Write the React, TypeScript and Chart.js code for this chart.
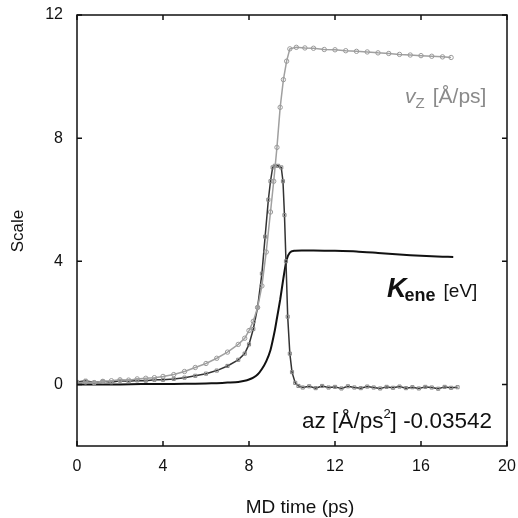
import React, { useEffect, useRef } from "react";
import { Chart, registerables } from "chart.js";
Chart.register(...registerables);

// ---- data ----
const vzTime = [0, 0.4, 0.8, 1.2, 1.6, 2.0, 2.4, 2.8, 3.2, 3.6, 4.0, 4.5, 5.0, 5.5, 6.0, 6.5, 7.0, 7.5, 7.8, 8.0, 8.2, 8.4, 8.6, 8.8, 9.0, 9.15, 9.3, 9.45, 9.6, 9.75, 9.9, 10.2, 10.6, 11.0, 11.5, 12.0, 12.5, 13.0, 13.5, 14.0, 14.5, 15.0, 15.5, 16.0, 16.5, 17.0, 17.4];
const vzValues = [0.05, 0.08, 0.06, 0.1, 0.12, 0.15, 0.14, 0.18, 0.2, 0.22, 0.26, 0.32, 0.42, 0.55, 0.68, 0.85, 1.05, 1.3, 1.5, 1.75, 2.05, 2.5, 3.2, 4.3, 5.6, 6.6, 7.7, 9.0, 9.9, 10.5, 10.9, 10.95, 10.93, 10.92, 10.88, 10.87, 10.84, 10.82, 10.8, 10.77, 10.75, 10.72, 10.7, 10.68, 10.66, 10.64, 10.62];

const azTime = [0, 0.4, 0.8, 1.2, 1.6, 2.0, 2.4, 2.8, 3.2, 3.6, 4.0, 4.5, 5.0, 5.5, 6.0, 6.5, 7.0, 7.5, 7.8, 8.0, 8.2, 8.4, 8.6, 8.75, 8.9, 9.0, 9.1, 9.2, 9.35, 9.5, 9.58, 9.65, 9.72, 9.8, 9.9, 10.0, 10.15, 10.3, 10.5, 10.8, 11.1, 11.4, 11.7, 12.0, 12.3, 12.6, 12.9, 13.2, 13.5, 13.8, 14.1, 14.4, 14.7, 15.0, 15.3, 15.6, 15.9, 16.2, 16.5, 16.8, 17.1, 17.4, 17.7];
const azValues = [0.08, 0.12, 0.06, 0.1, 0.07, 0.12, 0.1, 0.13, 0.12, 0.15, 0.15, 0.18, 0.22, 0.28, 0.35, 0.45, 0.6, 0.8, 1.0, 1.3, 1.8, 2.5, 3.6, 4.8, 6.0, 6.6, 7.05, 7.1, 7.1, 7.05, 6.6, 5.5, 4.0, 2.2, 1.0, 0.4, 0.05, -0.05, -0.1, -0.06, -0.12, -0.05, -0.1, -0.08, -0.13, -0.06, -0.1, -0.12, -0.07, -0.1, -0.13, -0.08, -0.11, -0.07, -0.12, -0.09, -0.13, -0.08, -0.1, -0.14, -0.08, -0.11, -0.09];

const keneTime = [0, 1, 2, 3, 4, 5, 6, 6.5, 7.0, 7.5, 7.8, 8.0, 8.2, 8.4, 8.6, 8.8, 9.0, 9.2, 9.3, 9.45, 9.6, 9.75, 9.9, 10.1, 10.5, 11, 12, 13, 14, 15, 16, 17, 17.5];
const keneValues = [0, 0, 0, 0.01, 0.01, 0.02, 0.03, 0.04, 0.06, 0.08, 0.12, 0.16, 0.22, 0.32, 0.5, 0.75, 1.12, 1.75, 2.15, 2.75, 3.45, 4.05, 4.28, 4.34, 4.35, 4.35, 4.34, 4.32, 4.27, 4.22, 4.18, 4.15, 4.14];

const xTicks = [0, 4, 8, 12, 16, 20];
const yTicks = [0, 4, 8, 12];

const FONT = "'Liberation Sans', Arial, sans-serif";

const pts = (t: number[], v: number[]) => t.map((x, i) => ({ x, y: v[i] }));

const framePlugin = {
  id: "frame",
  afterDraw(chart: any) {
    const { ctx, chartArea: a, scales } = chart;
    const x = scales.x, y = scales.y;
    ctx.save();
    ctx.strokeStyle = "#111";
    ctx.lineWidth = 1.5;
    ctx.strokeRect(a.left, a.top, a.right - a.left, a.bottom - a.top);
    const L = 5;
    ctx.beginPath();
    xTicks.forEach((v) => {
      const px = x.getPixelForValue(v);
      ctx.moveTo(px, a.bottom); ctx.lineTo(px, a.bottom - L);
      ctx.moveTo(px, a.top); ctx.lineTo(px, a.top + L);
    });
    yTicks.forEach((v) => {
      const py = y.getPixelForValue(v);
      ctx.moveTo(a.left, py); ctx.lineTo(a.left + L, py);
      ctx.moveTo(a.right, py); ctx.lineTo(a.right - L, py);
    });
    ctx.stroke();

    // tick labels
    ctx.fillStyle = "#111";
    ctx.font = `16px ${FONT}`;
    ctx.textBaseline = "middle";
    ctx.textAlign = "center";
    xTicks.forEach((v) => ctx.fillText(String(v), x.getPixelForValue(v), a.bottom + 21));
    ctx.textAlign = "right";
    yTicks.forEach((v) => ctx.fillText(String(v), a.left - 14, y.getPixelForValue(v)));

    // axis titles
    ctx.textAlign = "center";
    ctx.font = `19px ${FONT}`;
    ctx.fillText("MD time (ps)", 300, 508);
    ctx.font = `17px ${FONT}`;
    ctx.save();
    ctx.translate(18, 231);
    ctx.rotate(-Math.PI / 2);
    ctx.fillText("Scale", 0, 0);
    ctx.restore();

    // annotations
    ctx.textAlign = "left";
    ctx.textBaseline = "alphabetic";
    // v_z [Å/ps]
    let px = x.getPixelForValue(15.26);
    let py = y.getPixelForValue(9.14);
    ctx.fillStyle = "#8a8a8a";
    ctx.font = `italic 21px ${FONT}`;
    ctx.fillText("v", px, py);
    px += ctx.measureText("v").width;
    ctx.font = `15px ${FONT}`;
    ctx.fillText("Z", px, py + 5);
    px += ctx.measureText("Z").width + 8;
    ctx.font = `21px ${FONT}`;
    ctx.fillText("[Å/ps]", px, py);

    // K_ene [eV]
    px = x.getPixelForValue(14.42);
    py = y.getPixelForValue(2.84);
    ctx.fillStyle = "#111";
    ctx.font = `italic bold 27px ${FONT}`;
    ctx.fillText("K", px, py);
    px += ctx.measureText("K").width - 2;
    ctx.font = `bold 18px ${FONT}`;
    ctx.fillText("ene", px, py + 4);
    px += ctx.measureText("ene").width + 8;
    ctx.font = `19px ${FONT}`;
    ctx.fillText("[eV]", px, py);

    // az [Å/ps²] -0.03542
    px = x.getPixelForValue(10.47);
    py = y.getPixelForValue(-1.42);
    ctx.font = `22.5px ${FONT}`;
    ctx.fillText("az [Å/ps", px, py);
    px += ctx.measureText("az [Å/ps").width;
    ctx.font = `13px ${FONT}`;
    ctx.fillText("2", px, py - 10);
    px += ctx.measureText("2").width;
    ctx.font = `22.5px ${FONT}`;
    ctx.fillText("] -0.03542", px, py);
    ctx.restore();
  },
};

export default function App() {
  const ref = useRef<HTMLCanvasElement>(null);
  useEffect(() => {
    document.body.style.margin = "0";
    const chart = new Chart(ref.current as HTMLCanvasElement, {
      type: "line",
      data: {
        datasets: [
          {
            label: "vz",
            data: pts(vzTime, vzValues),
            borderColor: "#a0a0a0",
            borderWidth: 1.5,
            pointStyle: "circle",
            pointRadius: 2.2,
            pointBorderColor: "#9a9a9a",
            pointBackgroundColor: "rgba(255,255,255,0)",
            pointBorderWidth: 1,
            tension: 0,
          },
          {
            label: "az",
            data: pts(azTime, azValues),
            borderColor: "#333",
            borderWidth: 1.5,
            pointStyle: "rect",
            pointRadius: 2.2,
            pointBorderColor: "#888",
            pointBackgroundColor: "rgba(255,255,255,0)",
            pointBorderWidth: 1,
            tension: 0,
          },
          {
            label: "Kene",
            data: pts(keneTime, keneValues),
            borderColor: "#111",
            borderWidth: 2,
            pointRadius: 0,
            tension: 0.2,
          },
        ],
      },
      options: {
        animation: false,
        responsive: false,
        events: [],
        layout: { padding: { left: 0, right: 11, top: 15, bottom: 0 } },
        plugins: { legend: { display: false }, tooltip: { enabled: false } },
        scales: {
          x: {
            type: "linear",
            min: 0,
            max: 20,
            afterBuildTicks: (s: any) => { s.ticks = xTicks.map((v) => ({ value: v })); },
            afterFit: (s: any) => { s.height = 72; },
            grid: { display: false, drawTicks: false },
            border: { display: false },
            ticks: { display: false },
          },
          y: {
            type: "linear",
            min: -2,
            max: 12,
            afterBuildTicks: (s: any) => { s.ticks = yTicks.map((v) => ({ value: v })); },
            afterFit: (s: any) => { s.width = 77; },
            grid: { display: false, drawTicks: false },
            border: { display: false },
            ticks: { display: false },
          },
        },
      },
      plugins: [framePlugin],
    });
    return () => chart.destroy();
  }, []);
  return (
    <div style={{ width: 518, height: 518, background: "#fff" }}>
      <canvas ref={ref} width={518} height={518} />
    </div>
  );
}
